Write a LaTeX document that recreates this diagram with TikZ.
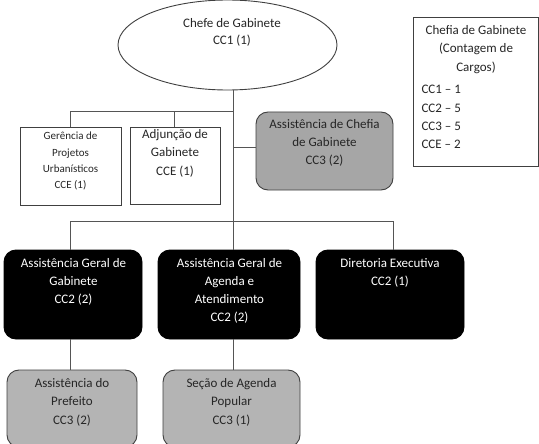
\documentclass[tikz,border=0pt]{standalone}
\usepackage{fontspec}
\setmainfont{Carlito}
\usetikzlibrary{shapes.geometric}
\definecolor{linegray}{HTML}{555555}
\definecolor{boxborder}{HTML}{404040}
\definecolor{darkfill}{HTML}{A6A6A6}
\definecolor{lightfill}{HTML}{B4B4B4}
\definecolor{textgray}{HTML}{262626}
\begin{document}
\begin{tikzpicture}[x=1pt,y=-1pt,
  conn/.style={draw=linegray, line width=1pt},
  sqbox/.style={rectangle, draw=boxborder, line width=0.9pt, fill=white, outer sep=0pt, inner sep=0pt},
  rbox/.style={rectangle, rounded corners=12pt, draw=boxborder, line width=0.9pt, outer sep=0pt, inner sep=0pt},
  blackbox/.style={rbox, fill=black, draw=black},
  txt/.style={inner sep=0pt, outer sep=0pt, align=center, anchor=north, text=textgray,
    font=\fontsize{13}{18.5}\selectfont, execute at begin node=\strut},
  wtxt/.style={txt, text=white},
]
\path[use as bounding box, fill=white] (0,0) rectangle (539,444);
\begin{scope}
\clip (0,0) rectangle (539,444);
% top ellipse
\node[ellipse, draw=boxborder, line width=0.9pt, fill=white, minimum width=219pt, minimum height=90pt, inner sep=0pt, outer sep=0pt] (chefe) at (227.5,45) {};
\node[txt, font=\fontsize{13}{17.3}\selectfont] (chefet) at (232,18.1) {Chefe de Gabinete\\CC1 (1)};
% legend
\node[sqbox, minimum width=125pt, minimum height=149pt] (legend) at (475.5,92.2) {};
\node[txt, font=\fontsize{13}{18.8}\selectfont] (legendt) at (476,25.1) {Chefia de Gabinete\\(Contagem de\\Cargos)};
\node[txt, font=\fontsize{13}{18.3}\selectfont, align=left, anchor=north west] (legendl) at (421.5,85.5) {CC1 – 1\\CC2 – 5\\CC3 – 5\\CCE – 2};
% second level
\node[sqbox, minimum width=101pt, minimum height=78pt] (ger) at (70.5,166) {};
\node[txt, font=\fontsize{11}{16.2}\selectfont] (gert) at (70.5,132.2) {Gerência de\\Projetos\\Urbanísticos\\CCE (1)};
\node[sqbox, minimum width=90pt, minimum height=77pt] (adj) at (175,165.5) {};
\node[txt] (adjt) at (175,129.3) {Adjunção de\\Gabinete\\CCE (1)};
\node[rbox, fill=darkfill, minimum width=137pt, minimum height=78pt] (ass) at (324.5,151) {};
\node[txt, font=\fontsize{13}{18}\selectfont] (asst) at (324.5,119.3) {Assistência de Chefia\\de Gabinete\\CC3 (2)};
% third level
\node[blackbox, minimum width=138pt, minimum height=89pt] (b1) at (73,294.5) {};
\node[wtxt, font=\fontsize{13}{18}\selectfont] (b1t) at (73.5,258.1) {Assistência Geral de\\Gabinete\\CC2 (2)};
\node[blackbox, minimum width=142pt, minimum height=89pt] (b2) at (229,294.5) {};
\node[wtxt, font=\fontsize{13}{18}\selectfont] (b2t) at (229.5,258.1) {Assistência Geral de\\Agenda e\\Atendimento\\CC2 (2)};
\node[blackbox, minimum width=148pt, minimum height=89pt] (b3) at (390,294.5) {};
\node[wtxt, font=\fontsize{13}{18}\selectfont] (b3t) at (390,258.1) {Diretoria Executiva\\CC2 (1)};
% fourth level
\node[rbox, fill=lightfill, minimum width=130pt, minimum height=77pt] (g1) at (72,408.5) {};
\node[txt] (g1t) at (72,378.3) {Assistência do\\Prefeito\\CC3 (2)};
\node[rbox, fill=lightfill, minimum width=137pt, minimum height=77pt] (g2) at (231.5,408.5) {};
\node[txt] (g2t) at (231.5,378.3) {Seção de Agenda\\Popular\\CC3 (1)};
% junction coordinates
\coordinate (j1) at (233,112);
\coordinate (j1l) at (70,112);
\coordinate (j1m) at (174,112);
\coordinate (j2) at (233,148);
\coordinate (j3) at (233,221);
\coordinate (j3l) at (70,221);
\coordinate (j3r) at (393,221);
% connectors
\draw[conn] (j1 |- chefe.south) -- (j1 |- b2.north);
\draw[conn] (j1) -- (j1l) -- (j1l |- ger.north);
\draw[conn] (j1m) -- (j1m |- adj.north);
\draw[conn] (j2) -- (ass.west |- j2);
\draw[conn] (j3r |- b3.north) -- (j3r) -- (j3l) -- (j3l |- b1.north);
\draw[conn] (j3l |- b1.south) -- (j3l |- g1.north);
\draw[conn] (j1 |- b2.south) -- (j1 |- g2.north);
\end{scope}
\end{tikzpicture}
\end{document}
